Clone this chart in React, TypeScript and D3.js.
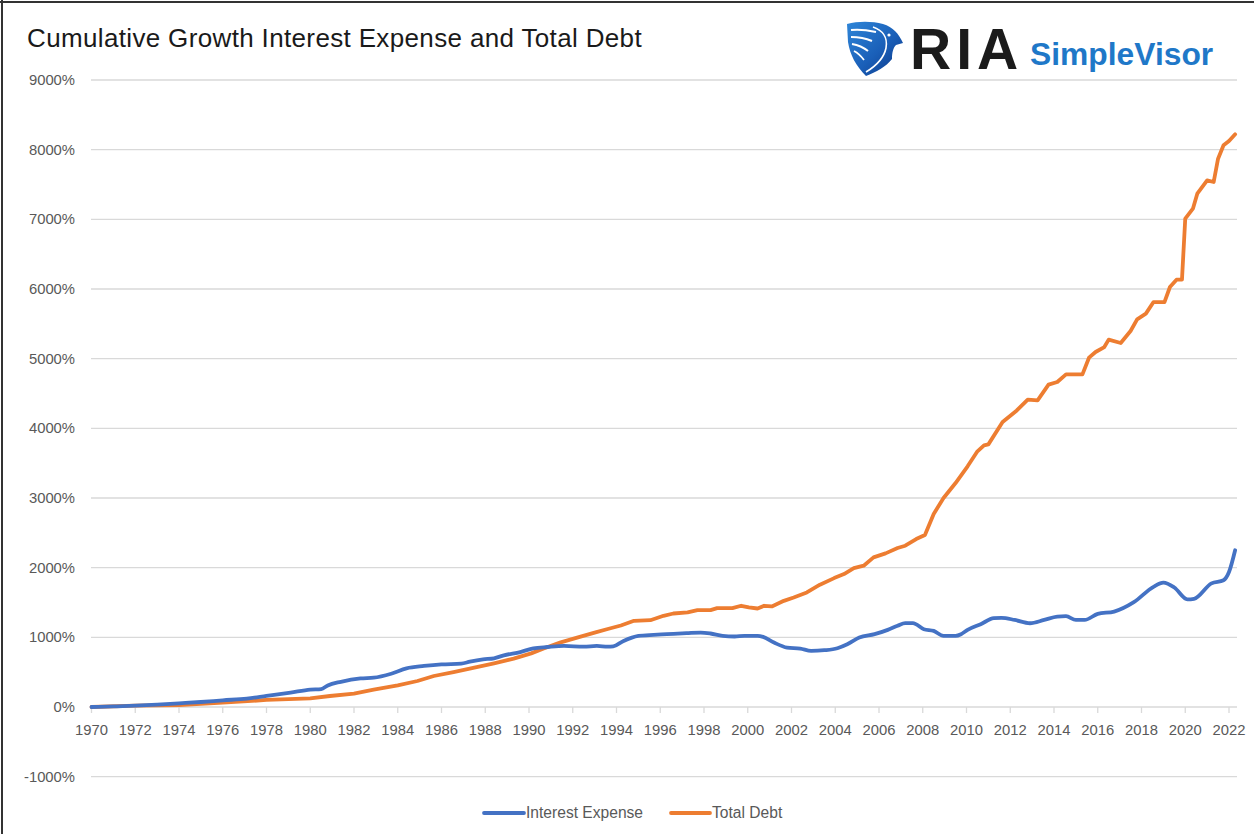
import React from "react";
import * as d3 from "d3";

// ---- Data ----
const title = "Cumulative Growth Interest Expense and Total Debt";
const seriesNames = ["Interest Expense", "Total Debt"];
const seriesColors = ["#4472C4", "#ED7D31"];

const xTickYears = d3.range(1970, 2023, 2);
const yTickValues = [-1000, 0, 1000, 2000, 3000, 4000, 5000, 6000, 7000, 8000, 9000];

const interestYears = [
  1970.0, 1971.0, 1972.0, 1973.0, 1974.0, 1975.0, 1976.0, 1977.1, 1978.0, 1979.1,
  1980.0, 1980.5, 1980.8, 1981.4, 1982.3, 1982.9, 1983.7, 1984.4, 1985.2, 1986.0,
  1986.9, 1987.3, 1987.9, 1988.4, 1988.85, 1989.6, 1990.2, 1990.85, 1991.6, 1992.5,
  1993.1, 1993.6, 1993.85, 1994.3, 1995.0, 1995.7, 1996.3, 1997.2, 1997.85, 1998.3,
  1998.85, 1999.4, 1999.85, 2000.45, 2000.7, 2001.2, 2001.8, 2002.4, 2002.9, 2003.5,
  2004.1, 2004.55, 2005.1, 2005.8, 2006.4, 2006.85, 2007.2, 2007.55, 2008.05, 2008.5,
  2008.95, 2009.5, 2009.75, 2010.05, 2010.65, 2011.25, 2011.6, 2012.2, 2012.9, 2013.55,
  2014.15, 2014.55, 2015.0, 2015.4, 2016.0, 2016.75, 2017.65, 2018.55, 2019.0, 2019.5,
  2020.1, 2020.4, 2021.2, 2021.75, 2022.0, 2022.28,
];
const interestValues = [
  0, 8, 19, 35, 53, 72, 96, 120, 159, 207,
  250, 258, 310, 362, 411, 421, 478, 555, 589, 612,
  622, 651, 684, 699, 742, 789, 842, 861, 876, 866,
  876, 866, 870, 945, 1021, 1036, 1045, 1059, 1069, 1055,
  1021, 1012, 1021, 1021, 1007, 925, 853, 839, 805, 815,
  844, 901, 997, 1045, 1107, 1165, 1203, 1203, 1117, 1093,
  1021, 1021, 1045, 1107, 1189, 1275, 1279, 1250, 1202, 1250,
  1298, 1303, 1250, 1250, 1337, 1370, 1505, 1725, 1785, 1715,
  1545, 1553, 1775, 1820, 1937, 2250,
];

const debtYears = [
  1970.0, 1972.0, 1974.0, 1976.0, 1978.0, 1980.0, 1980.9, 1982.0, 1982.9, 1984.0,
  1984.9, 1985.65, 1986.55, 1987.5, 1988.4, 1989.3, 1990.1, 1990.7, 1991.45, 1992.2,
  1993.0, 1993.6, 1994.2, 1994.8, 1995.55, 1996.15, 1996.6, 1997.25, 1997.7, 1998.3,
  1998.6, 1999.3, 1999.7, 2000.05, 2000.45, 2000.75, 2001.1, 2001.65, 2002.1, 2002.7,
  2003.3, 2003.95, 2004.4, 2004.85, 2005.3, 2005.75, 2006.3, 2006.85, 2007.2, 2007.7,
  2008.1, 2008.5, 2008.95, 2009.5, 2010.05, 2010.5, 2010.8, 2011.0, 2011.65, 2012.3,
  2012.8, 2013.25, 2013.75, 2014.15, 2014.55, 2015.3, 2015.6, 2015.9, 2016.3, 2016.5,
  2017.05, 2017.5, 2017.8, 2018.2, 2018.55, 2019.05, 2019.3, 2019.6, 2019.85, 2020.0,
  2020.35, 2020.55, 2021.0, 2021.3, 2021.5, 2021.75, 2022.0, 2022.28,
];
const debtValues = [
  0, 19, 29, 62, 101, 125, 158, 191, 249, 311,
  373, 445, 502, 565, 627, 694, 770, 842, 928, 995,
  1067, 1120, 1170, 1237, 1246, 1309, 1342, 1357, 1390, 1390,
  1419, 1419, 1453, 1429, 1414, 1453, 1443, 1524, 1572, 1644,
  1755, 1850, 1908, 1994, 2028, 2148, 2205, 2282, 2315, 2411,
  2470, 2771, 3000, 3215, 3455, 3670, 3756, 3770, 4090, 4257,
  4411, 4402, 4627, 4665, 4775, 4775, 5014, 5096, 5167, 5273,
  5225, 5397, 5565, 5646, 5813, 5813, 6029, 6134, 6134, 7010,
  7153, 7368, 7560, 7536, 7871, 8062, 8124, 8220,
];

// ---- Layout ----
const W = 1254;
const H = 834;
const plotLeft = 91;
const plotRight = 1237;
const FONT = "'Liberation Sans', Arial, sans-serif";
const LABEL = "#595959";
const GRID = "#d9d9d9";

export default function App() {
  const x = d3.scaleLinear().domain([1970, 2022]).range([91.5, 1229]);
  const y = d3.scaleLinear().domain([0, 9000]).range([707, 80]);

  const interestData = interestYears.map((yr, i) => [yr, interestValues[i]] as [number, number]);
  const debtData = debtYears.map((yr, i) => [yr, debtValues[i]] as [number, number]);

  const smoothLine = d3
    .line<[number, number]>()
    .x((d) => x(d[0]))
    .y((d) => y(d[1]))
    .curve(d3.curveMonotoneX);
  const straightLine = d3
    .line<[number, number]>()
    .x((d) => x(d[0]))
    .y((d) => y(d[1]))
    .curve(d3.curveLinear);

  return (
    <svg
      width={W}
      height={H}
      viewBox={`0 0 ${W} ${H}`}
      style={{ position: "absolute", left: 0, top: 0, background: "#fff" }}
    >
      <defs>
        <linearGradient id="shieldGrad" x1="0" y1="0" x2="1" y2="1">
          <stop offset="0%" stopColor="#2f86d8" />
          <stop offset="55%" stopColor="#1a5fb8" />
          <stop offset="100%" stopColor="#0c3685" />
        </linearGradient>
      </defs>
      <rect x={0} y={0} width={W} height={H} fill="#fff" />
      {/* frame */}
      <line x1={0} y1={2} x2={W} y2={2} stroke="#333" strokeWidth={2} />
      <line x1={2} y1={0} x2={2} y2={H} stroke="#333" strokeWidth={2} />

      {/* title */}
      <text x={27} y={47} fontFamily={FONT} fontSize={26} letterSpacing={0.35} fill="#1a1a1a">
        {title}
      </text>

      {/* logo */}
      <g>
        <path
          d="M847,24 C858,21 872,21 883,24 C893,27 899,34 903,43 L896,45 C893,48 892,53 892,59 C886,67 876,72 866,76 C856,66 850,55 848,42 Z"
          fill="url(#shieldGrad)"
        />
        <path d="M851,30 C859,29 867,30 876,32" stroke="#fff" strokeWidth={2} fill="none" />
        <path d="M851,37 C858,37 865,38 872,41" stroke="#fff" strokeWidth={2} fill="none" />
        <path d="M852,44 C858,45 863,47 868,51" stroke="#fff" strokeWidth={2} fill="none" />
        <path d="M854,51 C858,53 861,56 864,60" stroke="#fff" strokeWidth={1.8} fill="none" />
        <path d="M873,27 C882,30 888,37 886,48 C884,58 876,66 866,72" stroke="#fff" strokeWidth={1.6} fill="none" />
        <circle cx={889} cy={35} r={1.6} fill="#fff" />
        <text x={910} y={69} fontFamily={FONT} fontSize={57} fontWeight={700} fill="#1b1b1b" letterSpacing={5}>
          RIA
        </text>
        <text x={1030} y={65} fontFamily={FONT} fontSize={31.8} fontWeight={700} fill="#1f78c8">
          SimpleVisor
        </text>
      </g>

      {/* gridlines and y labels */}
      {yTickValues.map((v) => (
        <g key={v}>
          <line x1={plotLeft} x2={plotRight} y1={y(v)} y2={y(v)} stroke={GRID} strokeWidth={1.3} />
          <text
            x={75}
            y={y(v) + 5}
            textAnchor="end"
            fontFamily={FONT}
            fontSize={14.8}
            fill={LABEL}
          >
            {`${v}%`}
          </text>
        </g>
      ))}

      {/* x ticks and labels */}
      {xTickYears.map((yr) => (
        <g key={yr}>
          <line x1={x(yr)} x2={x(yr)} y1={y(0)} y2={y(0) + 6} stroke={GRID} strokeWidth={1.3} />
          <text
            x={x(yr)}
            y={735}
            textAnchor="middle"
            fontFamily={FONT}
            fontSize={14.8}
            fill={LABEL}
          >
            {yr}
          </text>
        </g>
      ))}

      {/* series */}
      <path
        d={straightLine(debtData) || ""}
        fill="none"
        stroke={seriesColors[1]}
        strokeWidth={3.8}
        strokeLinejoin="round"
        strokeLinecap="round"
      />
      <path
        d={smoothLine(interestData) || ""}
        fill="none"
        stroke={seriesColors[0]}
        strokeWidth={3.8}
        strokeLinejoin="round"
        strokeLinecap="round"
      />

      {/* legend */}
      <g>
        <line x1={484} x2={524} y1={813} y2={813} stroke={seriesColors[0]} strokeWidth={3.8} strokeLinecap="round" />
        <text x={526} y={818} fontFamily={FONT} fontSize={15.6} fill={LABEL}>
          {seriesNames[0]}
        </text>
        <line x1={671} x2={710} y1={813} y2={813} stroke={seriesColors[1]} strokeWidth={3.8} strokeLinecap="round" />
        <text x={712} y={818} fontFamily={FONT} fontSize={15.6} fill={LABEL}>
          {seriesNames[1]}
        </text>
      </g>
    </svg>
  );
}
